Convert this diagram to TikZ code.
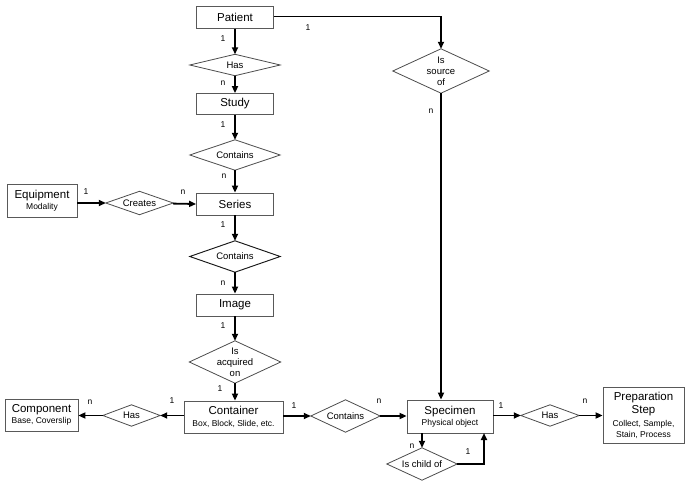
\documentclass[tikz,border=0pt]{standalone}
\usepackage{fontspec}
\setmainfont{Liberation Sans}
\usetikzlibrary{arrows.meta}

\newcommand{\subtxt}[1]{{\fontsize{8.5}{10}\selectfont #1}}

\begin{document}
\begin{tikzpicture}[x=1pt,y=-1pt,
  entity/.style={draw=black!65, line width=0.8pt, fill=white, inner sep=0pt,
    align=center, font=\fontsize{11.5}{13}\selectfont},
  relation/.style={inner sep=0pt, align=center, font=\fontsize{9.5}{11}\selectfont},
  rhombus/.style={draw=black!70, line width=0.8pt},
  link/.style={line width=1.8pt, -{Triangle[length=7pt,width=6pt]}},
  card/.style={inner sep=0pt, font=\fontsize{8.5}{9}\selectfont}]

\useasboundingbox (0,0) rectangle (688,486);

% entities
\node[entity, minimum width=77, minimum height=22] (patient) at (235,17.5) {Patient};
\node[entity, minimum width=77, minimum height=21] (study) at (235,104) {Study};
\node[entity, minimum width=77, minimum height=22] (series) at (235,204) {Series};
\node[entity, minimum width=77, minimum height=22] (image) at (235,305) {Image};
\node[entity, minimum width=70, minimum height=33] (equip) at (42,201) {Equipment\\[-2pt]\subtxt{Modality}};
\node[entity, minimum width=99, minimum height=32] (container) at (233.5,417) {Container\\[-1pt]\subtxt{Box, Block, Slide, etc.}};
\node[entity, minimum width=73, minimum height=32] (component) at (41.5,415) {Component\\[-2pt]\subtxt{Base, Coverslip}};
\node[entity, minimum width=86, minimum height=33] (specimen) at (450,416.5) {Specimen\\[-2pt]\subtxt{Physical object}};
\node[entity, minimum width=81, minimum height=56] (prep) at (643.5,415) {Preparation\\Step\\[0pt]\subtxt{Collect, Sample,}\\[-2pt]\subtxt{Stain, Process}};

% relationships: a bounding box per rhombus, outline drawn through its anchors
\newcommand{\relation}[6][rhombus]{%
  \node[relation, minimum width=#4, minimum height=#5] (#2) at #3 {#6};
  \draw[#1] (#2.north) -- (#2.east) -- (#2.south) -- (#2.west) -- cycle;}

\relation{has1}{(235,65)}{90}{21}{Has}
\relation{cont1}{(235,155)}{90}{30}{Contains}
\relation[rhombus, draw=black!90, line width=0.95pt]{cont2}{(235,256.5)}{90}{31}{Contains}
\relation{acq}{(235,362)}{91}{42}{Is\\acquired\\on}
\relation{creates}{(139.5,203)}{67}{23}{Creates}
\relation{source}{(441,71)}{96}{44}{Is\\source\\of}
\relation{has2}{(131.5,415.5)}{57}{21}{Has}
\relation{cont3}{(345.5,416)}{69}{32}{Contains}
\relation{has3}{(550,415.5)}{58}{21}{Has}
\relation{child}{(422,464)}{70}{32}{Is child of}

% connectors
\draw[link] (patient) -- (has1.north);
\draw[link] (has1) -- (study.north);
\draw[link] (study) -- (cont1.north);
\draw[link] (cont1) -- (series.north);
\draw[link] (series) -- (cont2.north);
\draw[link] (cont2) -- (image.north);
\draw[link] (image) -- (acq.north);
\draw[link] (acq) -- (acq.south |- container.north);
\draw[link] (equip.east |- creates.west) -- (creates.west);
\draw[link] (creates) -- (series.west);
\draw[link] (patient.east |- 0,16.5) -| (source.north);
\draw[link] (source) -- (source.south |- specimen.north);
\draw[link] (container.west |- has2.east) -- (has2.east);
\draw[link] (has2) -- (component.east |- has2.west);
\draw[link] (container.east |- cont3.west) -- (cont3.west);
\draw[link] (cont3) -- (specimen.west |- cont3.east);
\draw[link] (specimen.east |- has3.west) -- (has3.west);
\draw[link] (has3) -- (prep.west |- has3.east);
\draw[link] (specimen.south -| child.north) -- (child.north);
\coordinate (specbase) at (484,433);
\draw[link] (child.east) -| (specbase);

% cardinalities
\node[card] (c1) at (223,39) {1};
\node[card] (c2) at (223,83) {n};
\node[card] (c3) at (308,28) {1};
\node[card] (c4) at (431,111) {n};
\node[card] (c5) at (223,125) {1};
\node[card] (c6) at (224,176) {n};
\node[card] (c7) at (86,192) {1};
\node[card] (c8) at (183,192) {n};
\node[card] (c9) at (223,225) {1};
\node[card] (c10) at (223,283) {n};
\node[card] (c11) at (223,326) {1};
\node[card] (c12) at (220,389) {1};
\node[card] (c13) at (172,401) {1};
\node[card] (c14) at (90,402) {n};
\node[card] (c15) at (294,406) {1};
\node[card] (c16) at (379,401) {n};
\node[card] (c17) at (501,406) {1};
\node[card] (c18) at (585,401) {n};
\node[card] (c19) at (412,446) {n};
\node[card] (c20) at (468,452) {1};
\end{tikzpicture}
\end{document}
